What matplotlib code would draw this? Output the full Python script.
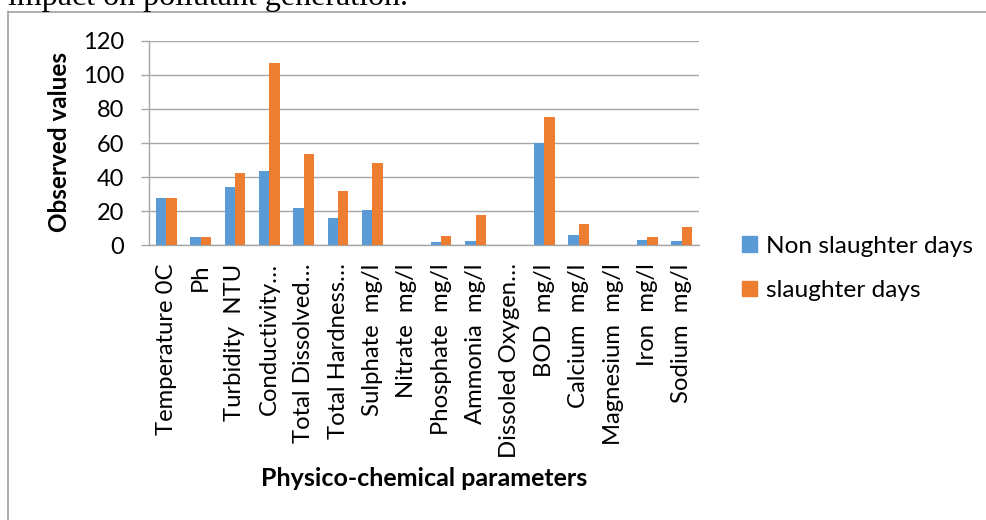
import numpy as np
import matplotlib
matplotlib.use("Agg")
import matplotlib.pyplot as plt
from matplotlib.patches import Patch
from matplotlib.lines import Line2D

# data
categories = ["Temperature 0C", "Ph", "Turbidity  NTU", "Conductivity\u2026",
              "Total Dissolved\u2026", "Total Hardness\u2026", "Sulphate  mg/l",
              "Nitrate  mg/l", "Phosphate  mg/l", "Ammonia  mg/l",
              "Dissoled Oxygen\u2026", "BOD  mg/l", "Calcium  mg/l",
              "Magnesium  mg/l", "Iron  mg/l", "Sodium  mg/l"]
non_slaughter = [28, 5, 34.2, 43.8, 21.7, 15.8, 20.9, 0, 1.9, 2.5, 0, 60, 6.2, 0, 2.9, 2.5]
slaughter = [28, 5, 42.4, 106.7, 53.4, 31.8, 48.1, 0, 5.3, 17.8, 0, 75, 12.7, 0, 4.7, 10.6]
series_names = ["Non slaughter days", "slaughter days"]
yticks = [0, 20, 40, 60, 80, 100, 120]

BLUE = "#5B9BD5"
ORANGE = "#ED7D31"
GRID = "#A6A6A6"

plt.rcParams["font.family"] = ["Lato", "DejaVu Sans"]

W, H = 987, 520
fig = plt.figure(figsize=(W / 100, H / 100), dpi=100)

# page text cut off at the top + chart border (top and left only)
fig.text(8 / W, 1 - 5.5 / H, "impact on pollutant generation.", family="Liberation Serif",
         fontsize=23, va="baseline", ha="left", color="black")
fig.add_artist(Line2D([8.5 / W, 1], [1 - 11.5 / H, 1 - 11.5 / H], color="#A0A0A0", lw=1.2))
fig.add_artist(Line2D([8.5 / W, 8.5 / W], [0, 1 - 11.5 / H], color="#A0A0A0", lw=1.2))

ax = fig.add_axes([149 / W, 1 - 245.3 / H, (699 - 149) / W, (245.3 - 40.7) / H])

x = np.arange(len(categories))
bw = 0.3
ax.bar(x - bw / 2, non_slaughter, width=bw, color=BLUE, zorder=3)
ax.bar(x + bw / 2, slaughter, width=bw, color=ORANGE, zorder=3)

ax.set_xlim(-0.5, len(categories) - 0.5)
ax.set_ylim(0, 120)
ax.set_yticks(yticks)
ax.yaxis.grid(True, color=GRID, lw=1.0, zorder=0)
ax.tick_params(axis="y", length=6, color=GRID, width=1.0, labelsize=17, pad=12)
ax.set_xticks(x)
ax.set_xticklabels(categories, rotation=90, ha="center", va="top")
ax.tick_params(axis="x", length=0, labelsize=17.2, pad=13)

for s in ["top", "right"]:
    ax.spines[s].set_visible(False)
for s in ["left", "bottom"]:
    ax.spines[s].set_color(GRID)
    ax.spines[s].set_linewidth(1.0)

fig.text(60 / W, 1 - 142 / H, "Observed values", rotation=90, fontsize=17.5,
         fontweight="bold", ha="center", va="center")
fig.text(424 / W, 1 - 478 / H, "Physico-chemical parameters", fontsize=18,
         fontweight="bold", ha="center", va="center")

handles = [Patch(color=BLUE), Patch(color=ORANGE)]
fig.legend(handles, series_names, loc="center left", bbox_to_anchor=(742 / W, 1 - 268.5 / H),
           frameon=False, fontsize=17.6, handlelength=0.62, handleheight=0.62,
           handletextpad=0.35, labelspacing=0.95, borderpad=0, borderaxespad=0)

fig.savefig("out.png", dpi=100)
